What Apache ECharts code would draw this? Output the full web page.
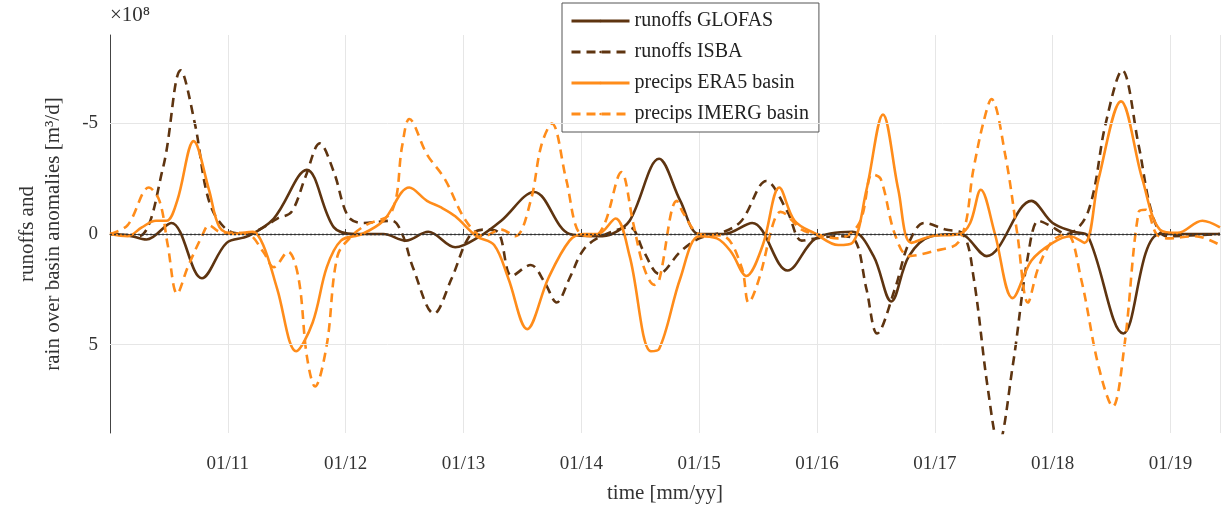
<!DOCTYPE html>
<html><head><meta charset="utf-8">
<script src="https://cdn.jsdelivr.net/npm/echarts@6/dist/echarts.min.js"></script>
<style>html,body{margin:0;padding:0;background:#fff}#c{width:1221px;height:508px}</style>
</head><body><div id="c"></div>
<script>
const glofas = [[2010.0,0],[2010.15,0.05],[2010.31,0.25],[2010.52,-0.5],[2010.78,2.0],[2010.99,0.4],[2011.17,0.1],[2011.39,-0.7],[2011.67,-2.9],[2011.90,-0.3],[2012.08,0],[2012.32,0],[2012.51,0.3],[2012.70,-0.1],[2012.93,0.6],[2013.14,0.1],[2013.32,-0.6],[2013.60,-1.9],[2013.90,0],[2014.14,0.1],[2014.26,0],[2014.41,-0.6],[2014.66,-3.4],[2014.84,-1.5],[2015.0,0],[2015.21,0],[2015.45,-0.5],[2015.75,1.65],[2015.99,0.2],[2016.30,-0.1],[2016.48,1.0],[2016.63,3.05],[2016.78,1.0],[2016.97,0.1],[2017.21,0],[2017.44,1.0],[2017.82,-1.5],[2018.0,-0.5],[2018.18,-0.1],[2018.30,0.1],[2018.6,4.5],[2018.91,0],[2019.42,0]];
const isba = [[2010.0,0],[2010.24,0.1],[2010.45,-3.0],[2010.60,-7.4],[2010.72,-5.0],[2010.84,-1.5],[2010.99,-0.2],[2011.17,0],[2011.30,-0.3],[2011.42,-0.7],[2011.54,-1.0],[2011.66,-2.6],[2011.78,-4.1],[2011.90,-2.8],[2012.02,-0.8],[2012.14,-0.5],[2012.39,-0.6],[2012.48,0],[2012.57,1.5],[2012.75,3.6],[2012.90,2.0],[2013.05,0.1],[2013.17,-0.2],[2013.29,-0.1],[2013.41,1.9],[2013.57,1.4],[2013.69,2.2],[2013.79,3.1],[2013.90,2.0],[2014.02,0.7],[2014.17,0.1],[2014.41,-0.3],[2014.53,0.8],[2014.66,1.8],[2014.84,0.8],[2015.0,0.2],[2015.21,-0.1],[2015.36,-0.6],[2015.57,-2.4],[2015.75,-1.0],[2015.87,0.3],[2015.99,0.2],[2016.18,0.1],[2016.31,0.2],[2016.42,2.5],[2016.51,4.5],[2016.66,2.5],[2016.78,0.4],[2016.91,-0.5],[2017.09,-0.2],[2017.24,0],[2017.33,2.0],[2017.45,7.0],[2017.54,9.5],[2017.66,6.0],[2017.79,1.0],[2017.88,-0.6],[2017.97,-0.4],[2018.12,0],[2018.30,-1.0],[2018.45,-5.0],[2018.59,-7.4],[2018.73,-4.0],[2018.85,-0.8],[2018.97,0.1],[2019.42,0]];
const era5 = [[2010.0,0],[2010.15,0.1],[2010.27,-0.3],[2010.39,-0.6],[2010.48,-0.6],[2010.57,-1.5],[2010.71,-4.2],[2010.84,-2.0],[2010.93,-0.3],[2011.05,0],[2011.21,-0.1],[2011.30,0.5],[2011.42,2.5],[2011.58,5.3],[2011.72,4.0],[2011.84,1.5],[2011.96,0.3],[2012.14,0],[2012.32,-0.6],[2012.54,-2.1],[2012.69,-1.5],[2012.81,-1.2],[2012.93,-0.8],[2013.11,0.1],[2013.26,0.5],[2013.38,2.0],[2013.54,4.3],[2013.72,2.0],[2013.90,0.3],[2014.02,0],[2014.14,0],[2014.29,-0.7],[2014.41,1.0],[2014.59,5.3],[2014.66,5.2],[2014.84,2.0],[2015.0,0.1],[2015.15,0.2],[2015.27,0.8],[2015.40,1.9],[2015.54,0.5],[2015.68,-2.1],[2015.81,-0.6],[2015.99,0],[2016.18,0.5],[2016.30,0.4],[2016.42,-2.0],[2016.56,-5.4],[2016.69,-2.0],[2016.80,0.4],[2016.97,0.1],[2017.21,0],[2017.30,-0.5],[2017.39,-2.0],[2017.51,0],[2017.66,2.9],[2017.82,1.2],[2018.0,0.4],[2018.15,0.1],[2018.27,0.4],[2018.39,-2.5],[2018.58,-6.0],[2018.76,-2.5],[2018.91,-0.2],[2019.06,-0.05],[2019.27,-0.6],[2019.42,-0.3]];
const imerg = [[2010.0,0],[2010.15,-0.4],[2010.33,-2.1],[2010.42,-1.5],[2010.49,0.5],[2010.57,2.7],[2010.66,1.5],[2010.78,0.1],[2010.84,-0.4],[2010.93,-0.1],[2011.17,0],[2011.30,0.8],[2011.39,1.5],[2011.51,0.8],[2011.60,2.0],[2011.67,5.5],[2011.74,6.9],[2011.84,5.0],[2011.93,1.0],[2012.05,0.1],[2012.17,-0.4],[2012.39,-1.0],[2012.48,-4.0],[2012.54,-5.2],[2012.69,-3.6],[2012.84,-2.5],[2013.02,-0.6],[2013.17,0.1],[2013.32,-0.2],[2013.44,0.1],[2013.57,-1.5],[2013.66,-4.0],[2013.75,-5.0],[2013.87,-2.5],[2013.99,0],[2014.11,0.1],[2014.20,-0.5],[2014.34,-2.8],[2014.44,-0.5],[2014.53,1.5],[2014.62,2.3],[2014.66,2.1],[2014.81,-1.5],[2014.87,-0.9],[2015.0,0],[2015.21,0.1],[2015.36,1.5],[2015.42,3.1],[2015.51,2.0],[2015.63,-0.5],[2015.69,-1.0],[2015.87,-0.2],[2015.99,0],[2016.18,0.2],[2016.36,-0.5],[2016.47,-2.7],[2016.54,-2.5],[2016.66,0],[2016.78,1.0],[2016.97,0.8],[2017.21,0.3],[2017.33,-3.0],[2017.41,-5.0],[2017.48,-6.1],[2017.60,-3.5],[2017.70,0],[2017.79,3.1],[2017.88,1.5],[2018.0,0.3],[2018.12,0],[2018.24,2.0],[2018.39,6.0],[2018.51,7.8],[2018.61,5.0],[2018.73,-1.0],[2018.79,-1.1],[2018.88,0],[2018.97,0.2],[2019.21,0.1],[2019.42,0.5]];
const yTicks = [-5, 0, 5];

const dark = '#5e3410', orange = '#ff8c1a';
const font = 'Liberation Serif';
function line(name, data, color, type) {
  return {name, type:'line', data, smooth:0.35, symbol:'none', clip:true,
    lineStyle:{color, width:2.6, type: type==='dashed'?[9,6]:'solid'}, itemStyle:{color}};
}
const chart = echarts.init(document.getElementById('c'));
const s1 = line('runoffs GLOFAS', glofas, dark, 'solid');
s1.markLine = {silent:true, symbol:'none', label:{show:false},
  data: yTicks.map(v => ({yAxis:v, lineStyle:{color: v===0?'#333':'#e6e6e6', type: v===0?[2,2]:'solid', width: v===0?1.3:1}}))};
chart.setOption({
  animation:false,
  textStyle:{fontFamily:font},
  grid:{left:110, right:1, top:35, bottom:75, containLabel:false, outerBoundsMode:'none'},
  legend:{orient:'vertical', left:562, top:3, itemWidth:58, itemHeight:3, itemGap:11,
    padding:[8,10,8,8], borderColor:'#555', borderWidth:1, backgroundColor:'#fff',
    lineStyle:{width:3},
    textStyle:{fontFamily:font, fontSize:20, color:'#222'},
    data:['runoffs GLOFAS','runoffs ISBA','precips ERA5 basin','precips IMERG basin']},
  xAxis:{type:'value', min:2010, max:2019.42, interval:1,
    name:'time [mm/yy]', nameLocation:'middle', nameGap:50, nameTextStyle:{fontSize:21, color:'#333', fontFamily:font},
    axisLine:{lineStyle:{color:'#444'}}, axisTick:{inside:true, length:5, lineStyle:{color:'#444'}},
    splitLine:{show:true, lineStyle:{color:'#e6e6e6'}},
    axisLabel:{fontSize:19, color:'#333', margin:22, showMinLabel:false, showMaxLabel:false,
      formatter:v => (v<=2010.01 ? '' : '01/' + String(Math.round(v)-2000).padStart(2,'0'))}},
  yAxis:{type:'value', min:-9, max:9, interval:1, inverse:true,
    name:'runoffs and\nrain over basin anomalies [m³/d]', nameLocation:'middle', nameGap:44,
    nameTextStyle:{fontSize:21, color:'#333', fontFamily:font, lineHeight:26},
    axisLine:{show:true, lineStyle:{color:'#444'}}, axisTick:{show:false},
    splitLine:{show:false},
    axisLabel:{fontSize:19, color:'#333', margin:12,
      formatter:v => (yTicks.includes(v) ? String(v) : '')}},
  graphic:[{type:'text', left:110, top:5, style:{text:'×10⁸', font:'21px "Liberation Serif"', fill:'#333'}}],
  series:[s1, line('runoffs ISBA', isba, dark, 'dashed'),
    line('precips ERA5 basin', era5, orange, 'solid'), line('precips IMERG basin', imerg, orange, 'dashed')]
});
</script></body></html>
